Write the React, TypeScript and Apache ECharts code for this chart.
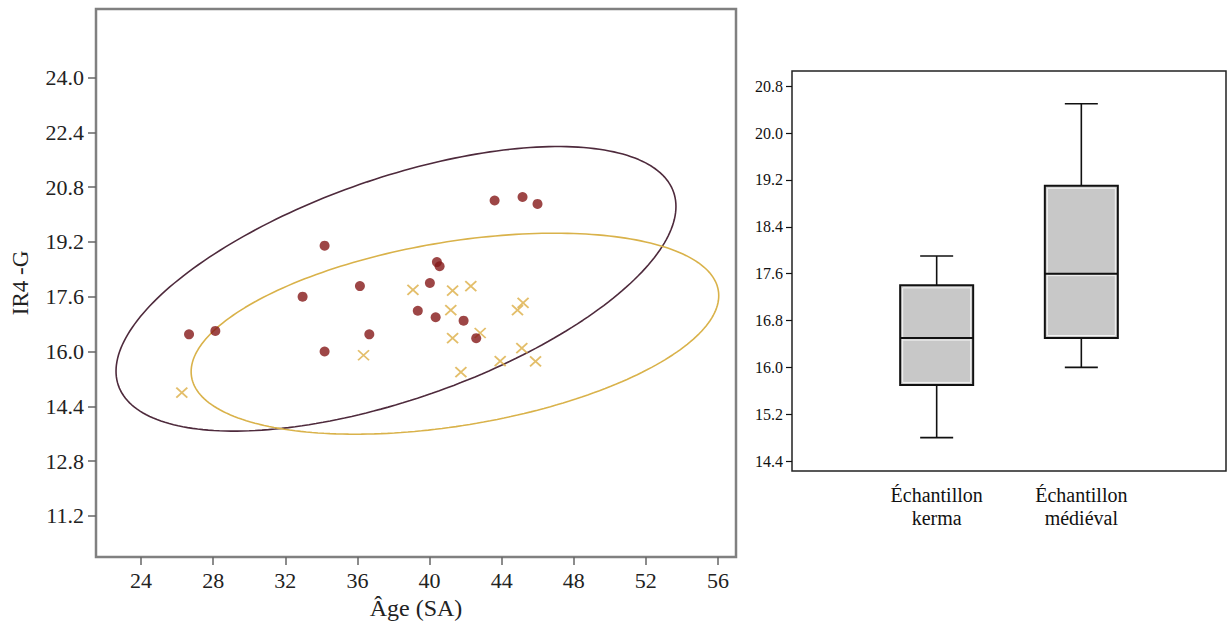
import React, { useEffect, useRef } from "react";
import * as echarts from "echarts";

// ---- Scatter data (Âge (SA) vs IR4 -G) ----
const kermaAge = [26.66, 28.12, 34.18, 32.96, 36.14, 34.18, 36.66, 40.41, 40.56, 40.02, 39.35, 40.34, 41.89, 42.59, 43.61, 45.16, 45.99];
const kermaIR4 = [16.5, 16.6, 19.09, 17.6, 17.91, 16.0, 16.5, 18.61, 18.49, 18.0, 17.19, 17.0, 16.9, 16.39, 20.41, 20.51, 20.31];
const medAge = [26.26, 36.34, 39.08, 41.28, 42.29, 41.18, 45.19, 44.88, 41.28, 42.81, 45.12, 43.92, 45.88, 41.74];
const medIR4 = [14.8, 15.89, 17.8, 17.78, 17.91, 17.21, 17.42, 17.21, 16.39, 16.54, 16.1, 15.72, 15.71, 15.4];

// Confidence ellipses: centre and two conjugate semi-axis vectors (data units)
const kermaEllipse = { c: [38.14, 17.83], u: [15.4, 2.82], v: [-2.0, 3.05] };
const medEllipse = { c: [41.41, 16.52], u: [14.61, 1.26], v: [-0.82, 2.65] };

const xTicks = [24, 28, 32, 36, 40, 44, 48, 52, 56];
const yTicks = [11.2, 12.8, 14.4, 16.0, 17.6, 19.2, 20.8, 22.4, 24.0];

// ---- Boxplot data ----
const boxCategories = ["", "Échantillon\nkerma", "Échantillon\nmédiéval", ""];
// [categoryIndex, min, Q1, median, Q3, max]
const boxStats = [
  [1, 14.8, 15.7, 16.5, 17.4, 17.9],
  [2, 16.0, 16.5, 17.6, 19.1, 20.5],
];
const boxYTicks = [14.4, 15.2, 16.0, 16.8, 17.6, 18.4, 19.2, 20.0, 20.8];

function ellipseOutline(e: { c: number[]; u: number[]; v: number[] }) {
  const pts: number[][] = [];
  const n = 240;
  for (let i = 0; i <= n; i++) {
    const t = (i / n) * Math.PI * 2;
    pts.push([
      e.c[0] + e.u[0] * Math.cos(t) + e.v[0] * Math.sin(t),
      e.c[1] + e.u[1] * Math.cos(t) + e.v[1] * Math.sin(t),
    ]);
  }
  return pts;
}

const SERIF = "Times New Roman, Liberation Serif, serif";
const CROSS = "path://M0,0L10,10M10,0L0,10";

export default function App() {
  const ref = useRef<HTMLDivElement>(null);
  useEffect(() => {
    if (!ref.current) return;
    const chart = echarts.init(ref.current, null, { renderer: "svg" });
    const kermaPts = kermaAge.map((x, i) => [x, kermaIR4[i]]);
    const medPts = medAge.map((x, i) => [x, medIR4[i]]);

    chart.setOption({
      animation: false,
      backgroundColor: "#ffffff",
      textStyle: { fontFamily: SERIF },
      grid: [
        { left: 96, top: 9, width: 640, height: 548, show: true, borderColor: "#808080", borderWidth: 2.5, backgroundColor: "transparent" },
        { left: 792, top: 71, width: 436, height: 400, show: true, borderColor: "#222", borderWidth: 1.5, backgroundColor: "transparent" },
      ],
      xAxis: [
        {
          type: "value", gridIndex: 0, min: 21.5, max: 57.0,
          name: "Âge (SA)", nameLocation: "middle", nameGap: 38,
          nameTextStyle: { fontFamily: SERIF, fontSize: 24, color: "#222" },
          axisLine: { show: false },
          axisTick: { show: true, length: 8, inside: false, customValues: xTicks, lineStyle: { color: "#666", width: 1.5 } },
          axisLabel: { customValues: xTicks, fontFamily: SERIF, fontSize: 22, color: "#222", margin: 12 },
          splitLine: { show: false },
        },
        {
          type: "category", gridIndex: 1, data: boxCategories, boundaryGap: false,
          axisLine: { show: false }, axisTick: { show: false },
          axisLabel: { fontFamily: SERIF, fontSize: 20, color: "#111", margin: 12, lineHeight: 23, interval: 0 },
          splitLine: { show: false },
        },
      ],
      yAxis: [
        {
          type: "value", gridIndex: 0, min: 10, max: 26,
          name: "IR4 -G", nameLocation: "middle", nameGap: 64, nameRotate: 90,
          nameTextStyle: { fontFamily: SERIF, fontSize: 23, color: "#222" },
          axisLine: { show: false },
          axisTick: { show: true, length: 8, customValues: yTicks, lineStyle: { color: "#666", width: 1.5 } },
          axisLabel: { customValues: yTicks, formatter: (v: number) => v.toFixed(1), fontFamily: SERIF, fontSize: 22, color: "#222", margin: 12 },
          splitLine: { show: false },
        },
        {
          type: "value", gridIndex: 1, min: 14.23, max: 21.06,
          axisLine: { show: false },
          axisTick: { show: true, length: 6, customValues: boxYTicks, lineStyle: { color: "#111", width: 1.2 } },
          axisLabel: { customValues: boxYTicks, formatter: (v: number) => v.toFixed(1), fontFamily: SERIF, fontSize: 16, color: "#111", margin: 9 },
          splitLine: { show: false },
        },
      ],
      series: [
        {
          type: "line", xAxisIndex: 0, yAxisIndex: 0, data: ellipseOutline(kermaEllipse),
          showSymbol: false, symbol: "none", smooth: false, silent: true,
          lineStyle: { color: "#4e2a3c", width: 1.6 }, z: 2,
        },
        {
          type: "line", xAxisIndex: 0, yAxisIndex: 0, data: ellipseOutline(medEllipse),
          showSymbol: false, symbol: "none", smooth: false, silent: true,
          lineStyle: { color: "#d9b24a", width: 1.6 }, z: 2,
        },
        {
          type: "scatter", xAxisIndex: 0, yAxisIndex: 0, data: medPts,
          symbol: CROSS, symbolSize: [11, 10],
          itemStyle: { color: "transparent", borderColor: "#dcae45", borderWidth: 1.8 }, z: 3,
        },
        {
          type: "scatter", xAxisIndex: 0, yAxisIndex: 0, data: kermaPts,
          symbol: "circle", symbolSize: 10,
          itemStyle: { color: "#841818" }, z: 4,
        },
        {
          type: "custom", xAxisIndex: 1, yAxisIndex: 1, data: boxStats,
          encode: { x: 0, y: [1, 2, 3, 4, 5] },
          renderItem: (params: any, api: any) => {
            const c = api.value(0);
            const pMin = api.coord([c, api.value(1)]);
            const pQ1 = api.coord([c, api.value(2)]);
            const pMed = api.coord([c, api.value(3)]);
            const pQ3 = api.coord([c, api.value(4)]);
            const pMax = api.coord([c, api.value(5)]);
            const cx = pMin[0];
            const hw = 36.5;
            const cap = 16.5;
            const stroke = { stroke: "#111", lineWidth: 2 };
            return {
              type: "group",
              children: [
                { type: "line", shape: { x1: cx, y1: pMax[1], x2: cx, y2: pQ3[1] }, style: { ...stroke, lineWidth: 1.6 } },
                { type: "line", shape: { x1: cx, y1: pQ1[1], x2: cx, y2: pMin[1] }, style: { ...stroke, lineWidth: 1.6 } },
                { type: "line", shape: { x1: cx - cap, y1: pMax[1], x2: cx + cap, y2: pMax[1] }, style: { ...stroke, lineWidth: 1.6 } },
                { type: "line", shape: { x1: cx - cap, y1: pMin[1], x2: cx + cap, y2: pMin[1] }, style: { ...stroke, lineWidth: 1.6 } },
                { type: "rect", shape: { x: cx - hw, y: pQ3[1], width: hw * 2, height: pQ1[1] - pQ3[1] }, style: { fill: "#c8c8c8", ...stroke } },
                { type: "rect", shape: { x: cx - hw + 2.5, y: pQ3[1] + 2.5, width: hw * 2 - 5, height: pQ1[1] - pQ3[1] - 5 }, style: { fill: "none", stroke: "#f4f4f4", lineWidth: 1 } },
                { type: "line", shape: { x1: cx - hw + 2.5, y1: pMed[1] + 2, x2: cx + hw - 2.5, y2: pMed[1] + 2 }, style: { stroke: "#f4f4f4", lineWidth: 1 } },
                { type: "line", shape: { x1: cx - hw, y1: pMed[1], x2: cx + hw, y2: pMed[1] }, style: stroke },
              ],
            };
          },
          z: 3,
        },
      ],
    });
    return () => chart.dispose();
  }, []);
  return <div ref={ref} style={{ position: "fixed", left: 0, top: 0, width: 1229, height: 635 }} />;
}
